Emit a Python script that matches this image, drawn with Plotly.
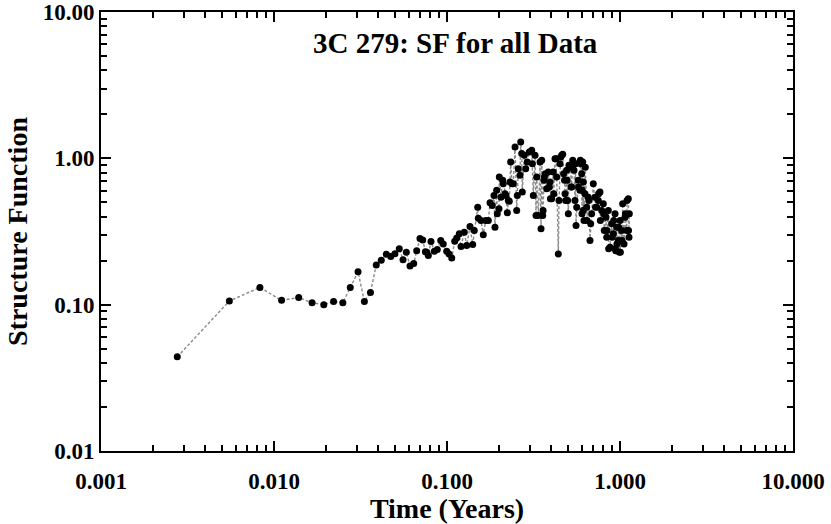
import plotly.graph_objects as go

# lag (years) and structure function values
lag_years = [
    0.00276, 0.00552, 0.00829, 0.01106, 0.01389, 0.0166, 0.0194, 0.0221, 0.0250, 0.0276,
    0.0306, 0.0333, 0.0361, 0.0390, 0.0417, 0.0446, 0.0473, 0.0500, 0.0530, 0.0557,
    0.0582, 0.0611, 0.0642, 0.0668, 0.0698, 0.0724, 0.0750, 0.0764, 0.0780, 0.0808,
    0.0845, 0.0879, 0.0920, 0.0952, 0.0996, 0.1027, 0.1065, 0.1108, 0.1138, 0.1178,
    0.1205, 0.1259, 0.1300, 0.1358, 0.1408, 0.1438, 0.1505, 0.1517, 0.1572, 0.1621,
    0.1674, 0.1733, 0.1773, 0.1827, 0.1869, 0.1894, 0.1937, 0.1953, 0.1998, 0.2006,
    0.2052, 0.2099, 0.2115, 0.2164, 0.2193, 0.2232, 0.2262, 0.2291, 0.2313, 0.2335,
    0.2375, 0.2416, 0.2473, 0.2529, 0.2550, 0.2583, 0.2642, 0.2667, 0.2703, 0.2725,
    0.2797, 0.2850, 0.2911, 0.2990, 0.3087, 0.3112, 0.3154, 0.3227, 0.3270, 0.3300,
    0.3372, 0.3450, 0.3496, 0.3527, 0.3575, 0.3593, 0.3637, 0.3651, 0.3700, 0.3769,
    0.3850, 0.3903, 0.3938, 0.3960, 0.4029, 0.4116, 0.4140, 0.4210, 0.4266, 0.4306,
    0.4399, 0.4440, 0.4499, 0.4541, 0.4603, 0.4665, 0.4720, 0.4780, 0.4810, 0.4850,
    0.4920, 0.4950, 0.4980, 0.5026, 0.5070, 0.5140, 0.5160, 0.5210, 0.5250, 0.5330,
    0.5420, 0.5495, 0.5530, 0.5570, 0.5620, 0.5740, 0.5760, 0.5870, 0.5900, 0.5930,
    0.6006, 0.6030, 0.6050, 0.6086, 0.6120, 0.6140, 0.6192, 0.6275, 0.6300, 0.6418,
    0.6450, 0.6556, 0.6600, 0.6708, 0.6770, 0.6860, 0.7010, 0.7170, 0.7220, 0.7330,
    0.7490, 0.7520, 0.7660, 0.7700, 0.7840, 0.8010, 0.8050, 0.8110, 0.8300, 0.8380,
    0.8420, 0.8560, 0.8600, 0.8760, 0.8950, 0.9000, 0.9150, 0.9200, 0.9360, 0.9400,
    0.9450, 0.9570, 0.9600, 0.9780, 0.9820, 0.9910, 1.0000, 1.0050, 1.0230, 1.0280,
    1.0360, 1.0550, 1.0690, 1.0750, 1.0930, 1.0980, 1.1170, 1.1200, 1.1270, 1.1320,
]
sf_values = [
    0.044, 0.106, 0.131, 0.107, 0.112, 0.103, 0.100, 0.105, 0.103, 0.131,
    0.168, 0.105, 0.121, 0.187, 0.201, 0.221, 0.213, 0.223, 0.241, 0.203,
    0.228, 0.184, 0.191, 0.234, 0.283, 0.277, 0.230, 0.228, 0.217, 0.270,
    0.232, 0.238, 0.274, 0.260, 0.232, 0.222, 0.208, 0.271, 0.286, 0.305,
    0.250, 0.313, 0.254, 0.342, 0.258, 0.321, 0.464, 0.390, 0.376, 0.300,
    0.376, 0.376, 0.497, 0.476, 0.558, 0.338, 0.604, 0.418, 0.452, 0.745,
    0.543, 0.707, 0.671, 0.573, 0.558, 0.425, 0.516, 0.510, 0.688, 0.943,
    0.671, 0.671, 1.195, 0.440, 0.558, 0.850, 0.765, 1.293, 1.077, 0.588,
    1.048, 0.850, 0.943, 1.104, 1.134, 0.920, 0.558, 1.048, 0.407, 0.745,
    0.407, 0.943, 0.330, 0.969, 0.407, 0.440, 0.707, 0.745, 0.785, 0.620,
    0.806, 0.636, 0.688, 0.530, 0.530, 0.806, 0.573, 0.995, 0.995, 0.745,
    0.222, 0.516, 0.920, 1.021, 1.048, 1.065, 0.785, 0.707, 0.573, 0.516,
    0.828, 0.707, 0.516, 0.418, 0.896, 0.896, 0.870, 0.636, 0.636, 0.969,
    0.828, 0.516, 0.920, 0.348, 0.464, 0.707, 0.636, 0.604, 0.969, 0.920,
    0.785, 0.418, 0.604, 0.943, 0.440, 0.688, 0.376, 0.573, 0.870, 0.464,
    0.376, 0.543, 0.516, 0.274, 0.357, 0.418, 0.671, 0.543, 0.464, 0.464,
    0.516, 0.573, 0.588, 0.376, 0.440, 0.489, 0.418, 0.321, 0.396, 0.289,
    0.321, 0.440, 0.241, 0.247, 0.357, 0.289, 0.305, 0.376, 0.418, 0.241,
    0.234, 0.338, 0.260, 0.274, 0.338, 0.228, 0.376, 0.228, 0.321, 0.274,
    0.489, 0.260, 0.396, 0.418, 0.321, 0.516, 0.530, 0.321, 0.289, 0.418,
]

title_text = "3C 279: SF for all Data"
serif = "Liberation Serif, Times New Roman, serif"
x_range = [-3, 1]
y_range = [-2, 1]

fig = go.Figure()
fig.add_trace(go.Scatter(
    x=lag_years, y=sf_values, mode="lines+markers",
    line=dict(color="#8a8a8a", width=1.4, dash="3px,2px"),
    marker=dict(color="black", size=7),
    showlegend=False,
))
# invisible copy on the overlay axes, so they get drawn (minor ticks)
fig.add_trace(go.Scatter(
    x=lag_years, y=sf_values, mode="markers", xaxis="x2", yaxis="y2",
    marker=dict(opacity=0), hoverinfo="skip", showlegend=False,
))

axis_common = dict(
    type="log", showgrid=False, zeroline=False, automargin=False,
)
major = dict(
    dtick=1, showline=True, linewidth=2, linecolor="black", mirror="ticks",
    ticks="inside", ticklen=10, tickwidth=1.6, tickcolor="black",
    tickfont=dict(family=serif, size=23, color="black", weight="bold"),
)
# second set of axes just to draw the minor ticks (2..9 in each decade)
minor = dict(
    dtick="D1", showline=False, mirror="ticks", showticklabels=False,
    ticks="inside", ticklen=6, tickwidth=1.5, tickcolor="black",
)
title_font = dict(family=serif, size=28, color="black", weight="bold")

fig.update_layout(
    xaxis=dict(range=x_range, tickformat=".3f", ticklabelstandoff=8,
               title=dict(text="Time (Years)", standoff=11, font=title_font),
               **axis_common, **major),
    yaxis=dict(range=y_range, tickformat=".2f",
               title=dict(text="Structure Function", standoff=7, font=title_font),
               **axis_common, **major),
    xaxis2=dict(range=x_range, overlaying="x", anchor="y", side="bottom",
                **axis_common, **minor),
    yaxis2=dict(range=y_range, overlaying="y", anchor="x", side="left",
                **axis_common, **minor),
)

fig.add_annotation(text=title_text, xref="paper", yref="paper", x=0.513, y=0.9305,
                   xanchor="center", yanchor="middle", showarrow=False,
                   font=dict(family=serif, size=29, color="black", weight="bold"))

fig.update_layout(
    width=831, height=524,
    margin=dict(l=101, r=38, t=12, b=73),
    plot_bgcolor="white", paper_bgcolor="white",
)

# drop the page's default 8px body margin so the figure sits at the corner
fig.write_html("out.html", config={"displayModeBar": False},
               post_script="document.body.style.margin='0';")
